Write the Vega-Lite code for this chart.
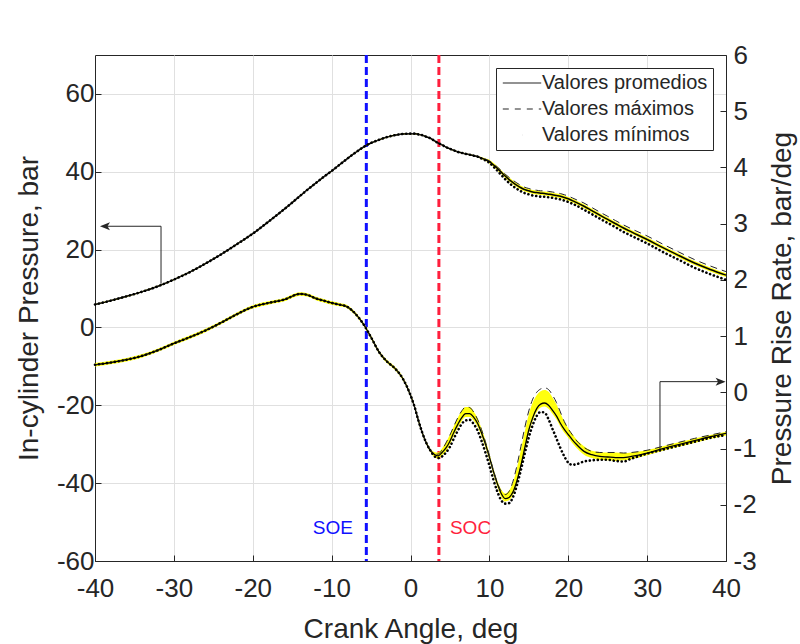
{
  "$schema": "https://vega.github.io/schema/vega-lite/v6.json",
  "width": 631,
  "height": 506,
  "autosize": {"type": "none"},
  "padding": {"left": 95, "top": 55, "right": 74, "bottom": 83},
  "background": "white",
  "config": {
    "font": "Liberation Sans",
    "view": {"stroke": "#262626", "strokeWidth": 1},
    "axis": {
      "labelFont": "Liberation Sans", "titleFont": "Liberation Sans",
      "labelFontSize": 26, "titleFontSize": 28, "titleFontWeight": "normal",
      "labelColor": "#262626", "titleColor": "#262626",
      "domainColor": "#262626", "tickColor": "#262626",
      "gridColor": "#e0e0e0", "gridOpacity": 1,
      "tickSize": -6, "labelPadding": 10, "labelFlush": false,
      "labelExpr": "datum.value + ''"
    },
    "legend": {
      "labelFont": "Liberation Sans", "labelFontSize": 20, "labelColor": "#262626", "labelLimit": 400
    }
  },
  "datasets": {
    "d": [
      {"a": -40, "pm": 5.9, "px": 5.9, "pn": 5.9, "pl": 5.75, "ph": 6.05, "rm": 0.49, "rx": 0.49, "rn": 0.49, "rl": 0.46, "rh": 0.52},
      {"a": -38, "pm": 6.9, "px": 6.9, "pn": 6.9, "pl": 6.75, "ph": 7.05, "rm": 0.53, "rx": 0.53, "rn": 0.53, "rl": 0.50, "rh": 0.56},
      {"a": -36, "pm": 8.0, "px": 8.0, "pn": 8.0, "pl": 7.85, "ph": 8.15, "rm": 0.58, "rx": 0.58, "rn": 0.58, "rl": 0.55, "rh": 0.61},
      {"a": -34, "pm": 9.2, "px": 9.2, "pn": 9.2, "pl": 9.05, "ph": 9.35, "rm": 0.65, "rx": 0.65, "rn": 0.65, "rl": 0.62, "rh": 0.68},
      {"a": -32, "pm": 10.6, "px": 10.6, "pn": 10.6, "pl": 10.45, "ph": 10.75, "rm": 0.75, "rx": 0.75, "rn": 0.75, "rl": 0.72, "rh": 0.78},
      {"a": -30, "pm": 12.3, "px": 12.3, "pn": 12.3, "pl": 12.15, "ph": 12.45, "rm": 0.87, "rx": 0.87, "rn": 0.87, "rl": 0.84, "rh": 0.90},
      {"a": -28, "pm": 14.2, "px": 14.2, "pn": 14.2, "pl": 14.05, "ph": 14.35, "rm": 0.98, "rx": 0.98, "rn": 0.98, "rl": 0.95, "rh": 1.01},
      {"a": -26, "pm": 16.4, "px": 16.4, "pn": 16.4, "pl": 16.25, "ph": 16.55, "rm": 1.10, "rx": 1.10, "rn": 1.10, "rl": 1.07, "rh": 1.13},
      {"a": -24, "pm": 18.8, "px": 18.8, "pn": 18.8, "pl": 18.65, "ph": 18.95, "rm": 1.24, "rx": 1.24, "rn": 1.24, "rl": 1.21, "rh": 1.27},
      {"a": -22, "pm": 21.4, "px": 21.4, "pn": 21.4, "pl": 21.25, "ph": 21.55, "rm": 1.39, "rx": 1.39, "rn": 1.39, "rl": 1.36, "rh": 1.42},
      {"a": -20, "pm": 24.1, "px": 24.1, "pn": 24.1, "pl": 23.95, "ph": 24.25, "rm": 1.52, "rx": 1.52, "rn": 1.52, "rl": 1.49, "rh": 1.55},
      {"a": -18, "pm": 27.2, "px": 27.2, "pn": 27.2, "pl": 27.05, "ph": 27.35, "rm": 1.59, "rx": 1.59, "rn": 1.59, "rl": 1.56, "rh": 1.62},
      {"a": -16, "pm": 30.4, "px": 30.4, "pn": 30.4, "pl": 30.25, "ph": 30.55, "rm": 1.65, "rx": 1.65, "rn": 1.65, "rl": 1.62, "rh": 1.68},
      {"a": -14, "pm": 33.8, "px": 33.8, "pn": 33.8, "pl": 33.65, "ph": 33.95, "rm": 1.75, "rx": 1.75, "rn": 1.75, "rl": 1.72, "rh": 1.78},
      {"a": -13, "pm": 35.5, "px": 35.5, "pn": 35.5, "pl": 35.35, "ph": 35.65, "rm": 1.73, "rx": 1.73, "rn": 1.73, "rl": 1.70, "rh": 1.76},
      {"a": -12, "pm": 37.1, "px": 37.1, "pn": 37.1, "pl": 36.95, "ph": 37.25, "rm": 1.67, "rx": 1.67, "rn": 1.67, "rl": 1.64, "rh": 1.70},
      {"a": -11, "pm": 38.7, "px": 38.7, "pn": 38.7, "pl": 38.55, "ph": 38.85, "rm": 1.63, "rx": 1.63, "rn": 1.63, "rl": 1.60, "rh": 1.66},
      {"a": -10, "pm": 40.2, "px": 40.2, "pn": 40.2, "pl": 40.05, "ph": 40.35, "rm": 1.59, "rx": 1.59, "rn": 1.59, "rl": 1.56, "rh": 1.62},
      {"a": -9, "pm": 41.8, "px": 41.8, "pn": 41.8, "pl": 41.65, "ph": 41.95, "rm": 1.56, "rx": 1.56, "rn": 1.56, "rl": 1.53, "rh": 1.59},
      {"a": -8, "pm": 43.4, "px": 43.4, "pn": 43.4, "pl": 43.25, "ph": 43.55, "rm": 1.52, "rx": 1.52, "rn": 1.52, "rl": 1.49, "rh": 1.55},
      {"a": -7, "pm": 44.9, "px": 44.9, "pn": 44.9, "pl": 44.75, "ph": 45.05, "rm": 1.40, "rx": 1.40, "rn": 1.40, "rl": 1.37, "rh": 1.43},
      {"a": -6, "pm": 46.3, "px": 46.3, "pn": 46.3, "pl": 46.15, "ph": 46.45, "rm": 1.22, "rx": 1.22, "rn": 1.22, "rl": 1.19, "rh": 1.25},
      {"a": -5, "pm": 47.4, "px": 47.4, "pn": 47.4, "pl": 47.25, "ph": 47.55, "rm": 0.98, "rx": 0.98, "rn": 0.98, "rl": 0.95, "rh": 1.01},
      {"a": -4, "pm": 48.2, "px": 48.2, "pn": 48.2, "pl": 48.05, "ph": 48.35, "rm": 0.72, "rx": 0.72, "rn": 0.72, "rl": 0.69, "rh": 0.75},
      {"a": -3, "pm": 48.9, "px": 48.9, "pn": 48.9, "pl": 48.75, "ph": 49.05, "rm": 0.55, "rx": 0.55, "rn": 0.55, "rl": 0.52, "rh": 0.58},
      {"a": -2, "pm": 49.4, "px": 49.4, "pn": 49.4, "pl": 49.25, "ph": 49.55, "rm": 0.43, "rx": 0.43, "rn": 0.43, "rl": 0.40, "rh": 0.46},
      {"a": -1, "pm": 49.7, "px": 49.7, "pn": 49.7, "pl": 49.55, "ph": 49.85, "rm": 0.25, "rx": 0.25, "rn": 0.25, "rl": 0.22, "rh": 0.28},
      {"a": 0, "pm": 49.8, "px": 49.8, "pn": 49.8, "pl": 49.65, "ph": 49.95, "rm": -0.05, "rx": -0.05, "rn": -0.05, "rl": -0.08, "rh": -0.02},
      {"a": 0.5, "pm": 49.8, "px": 49.8, "pn": 49.8, "pl": 49.65, "ph": 49.95, "rm": -0.25, "rx": -0.25, "rn": -0.25, "rl": -0.28, "rh": -0.22},
      {"a": 1, "pm": 49.6, "px": 49.6, "pn": 49.6, "pl": 49.45, "ph": 49.75, "rm": -0.50, "rx": -0.50, "rn": -0.50, "rl": -0.53, "rh": -0.47},
      {"a": 1.5, "pm": 49.4, "px": 49.4, "pn": 49.4, "pl": 49.25, "ph": 49.55, "rm": -0.72, "rx": -0.72, "rn": -0.72, "rl": -0.75, "rh": -0.69},
      {"a": 2, "pm": 49.0, "px": 49.0, "pn": 49.0, "pl": 48.85, "ph": 49.15, "rm": -0.90, "rx": -0.90, "rn": -0.90, "rl": -0.93, "rh": -0.87},
      {"a": 2.5, "pm": 48.6, "px": 48.6, "pn": 48.6, "pl": 48.45, "ph": 48.75, "rm": -1.03, "rx": -1.03, "rn": -1.03, "rl": -1.06, "rh": -1.00},
      {"a": 3, "pm": 48.0, "px": 48.0, "pn": 48.0, "pl": 47.85, "ph": 48.15, "rm": -1.10, "rx": -1.10, "rn": -1.13, "rl": -1.15, "rh": -1.06},
      {"a": 3.5, "pm": 47.4, "px": 47.4, "pn": 47.4, "pl": 47.25, "ph": 47.55, "rm": -1.13, "rx": -1.10, "rn": -1.17, "rl": -1.18, "rh": -1.07},
      {"a": 4, "pm": 46.9, "px": 46.9, "pn": 46.9, "pl": 46.75, "ph": 47.05, "rm": -1.07, "rx": -1.02, "rn": -1.14, "rl": -1.12, "rh": -1.00},
      {"a": 4.5, "pm": 46.35, "px": 46.35, "pn": 46.35, "pl": 46.2, "ph": 46.5, "rm": -0.99, "rx": -0.90, "rn": -1.07, "rl": -1.05, "rh": -0.89},
      {"a": 5, "pm": 45.9, "px": 45.9, "pn": 45.9, "pl": 45.75, "ph": 46.05, "rm": -0.87, "rx": -0.76, "rn": -0.97, "rl": -0.93, "rh": -0.75},
      {"a": 5.5, "pm": 45.5, "px": 45.5, "pn": 45.5, "pl": 45.35, "ph": 45.65, "rm": -0.71, "rx": -0.60, "rn": -0.82, "rl": -0.77, "rh": -0.60},
      {"a": 6, "pm": 45.1, "px": 45.1, "pn": 45.1, "pl": 44.95, "ph": 45.25, "rm": -0.57, "rx": -0.45, "rn": -0.68, "rl": -0.63, "rh": -0.45},
      {"a": 6.5, "pm": 44.85, "px": 44.85, "pn": 44.85, "pl": 44.7, "ph": 45.0, "rm": -0.45, "rx": -0.33, "rn": -0.56, "rl": -0.51, "rh": -0.33},
      {"a": 7, "pm": 44.6, "px": 44.6, "pn": 44.6, "pl": 44.45, "ph": 44.75, "rm": -0.38, "rx": -0.26, "rn": -0.50, "rl": -0.44, "rh": -0.26},
      {"a": 7.5, "pm": 44.4, "px": 44.4, "pn": 44.4, "pl": 44.25, "ph": 44.55, "rm": -0.38, "rx": -0.27, "rn": -0.49, "rl": -0.44, "rh": -0.26},
      {"a": 8, "pm": 44.15, "px": 44.15, "pn": 44.15, "pl": 44.0, "ph": 44.3, "rm": -0.44, "rx": -0.35, "rn": -0.56, "rl": -0.50, "rh": -0.34},
      {"a": 8.5, "pm": 43.9, "px": 43.9, "pn": 43.9, "pl": 43.75, "ph": 44.05, "rm": -0.55, "rx": -0.48, "rn": -0.68, "rl": -0.61, "rh": -0.46},
      {"a": 9, "pm": 43.5, "px": 43.6, "pn": 43.4, "pl": 43.2, "ph": 43.8, "rm": -0.72, "rx": -0.66, "rn": -0.86, "rl": -0.78, "rh": -0.64},
      {"a": 9.5, "pm": 43.1, "px": 43.25, "pn": 42.95, "pl": 42.8, "ph": 43.4, "rm": -0.92, "rx": -0.88, "rn": -1.07, "rl": -0.98, "rh": -0.85},
      {"a": 10, "pm": 42.6, "px": 42.8, "pn": 42.3, "pl": 42.1, "ph": 43.1, "rm": -1.15, "rx": -1.12, "rn": -1.30, "rl": -1.21, "rh": -1.09},
      {"a": 10.5, "pm": 41.8, "px": 42.1, "pn": 41.35, "pl": 41.3, "ph": 42.3, "rm": -1.40, "rx": -1.38, "rn": -1.55, "rl": -1.46, "rh": -1.35},
      {"a": 11, "pm": 40.9, "px": 41.25, "pn": 40.3, "pl": 40.4, "ph": 41.4, "rm": -1.62, "rx": -1.60, "rn": -1.76, "rl": -1.68, "rh": -1.57},
      {"a": 11.5, "pm": 39.9, "px": 40.35, "pn": 39.2, "pl": 39.4, "ph": 40.4, "rm": -1.80, "rx": -1.76, "rn": -1.92, "rl": -1.86, "rh": -1.73},
      {"a": 12, "pm": 38.9, "px": 39.4, "pn": 38.1, "pl": 38.4, "ph": 39.4, "rm": -1.89, "rx": -1.82, "rn": -1.98, "rl": -1.94, "rh": -1.80},
      {"a": 12.5, "pm": 38.0, "px": 38.55, "pn": 37.15, "pl": 37.5, "ph": 38.5, "rm": -1.87, "rx": -1.76, "rn": -1.97, "rl": -1.92, "rh": -1.75},
      {"a": 13, "pm": 37.2, "px": 37.8, "pn": 36.3, "pl": 36.7, "ph": 37.7, "rm": -1.77, "rx": -1.58, "rn": -1.86, "rl": -1.82, "rh": -1.60},
      {"a": 13.5, "pm": 36.5, "px": 37.1, "pn": 35.6, "pl": 36.0, "ph": 37.0, "rm": -1.57, "rx": -1.30, "rn": -1.65, "rl": -1.62, "rh": -1.34},
      {"a": 14, "pm": 35.9, "px": 36.5, "pn": 35.0, "pl": 35.4, "ph": 36.4, "rm": -1.30, "rx": -0.96, "rn": -1.38, "rl": -1.35, "rh": -1.02},
      {"a": 14.5, "pm": 35.4, "px": 36.0, "pn": 34.5, "pl": 34.9, "ph": 35.9, "rm": -0.98, "rx": -0.62, "rn": -1.08, "rl": -1.04, "rh": -0.69},
      {"a": 15, "pm": 35.1, "px": 35.7, "pn": 34.2, "pl": 34.6, "ph": 35.6, "rm": -0.67, "rx": -0.33, "rn": -0.80, "rl": -0.73, "rh": -0.39},
      {"a": 15.5, "pm": 34.8, "px": 35.4, "pn": 33.9, "pl": 34.3, "ph": 35.3, "rm": -0.45, "rx": -0.12, "rn": -0.58, "rl": -0.51, "rh": -0.18},
      {"a": 16, "pm": 34.65, "px": 35.25, "pn": 33.75, "pl": 34.15, "ph": 35.15, "rm": -0.29, "rx": 0.00, "rn": -0.42, "rl": -0.35, "rh": -0.05},
      {"a": 16.5, "pm": 34.5, "px": 35.1, "pn": 33.6, "pl": 34.0, "ph": 35.0, "rm": -0.21, "rx": 0.06, "rn": -0.35, "rl": -0.27, "rh": 0.02},
      {"a": 17, "pm": 34.4, "px": 35.1, "pn": 33.6, "pl": 33.9, "ph": 34.9, "rm": -0.19, "rx": 0.08, "rn": -0.36, "rl": -0.25, "rh": 0.04},
      {"a": 17.5, "pm": 34.25, "px": 34.95, "pn": 33.45, "pl": 33.75, "ph": 34.75, "rm": -0.23, "rx": 0.05, "rn": -0.48, "rl": -0.29, "rh": 0.01},
      {"a": 18, "pm": 34.1, "px": 34.8, "pn": 33.3, "pl": 33.6, "ph": 34.6, "rm": -0.32, "rx": -0.05, "rn": -0.65, "rl": -0.38, "rh": -0.09},
      {"a": 18.5, "pm": 33.9, "px": 34.6, "pn": 33.1, "pl": 33.4, "ph": 34.4, "rm": -0.42, "rx": -0.18, "rn": -0.82, "rl": -0.48, "rh": -0.21},
      {"a": 19, "pm": 33.7, "px": 34.4, "pn": 32.9, "pl": 33.2, "ph": 34.2, "rm": -0.55, "rx": -0.35, "rn": -0.99, "rl": -0.61, "rh": -0.37},
      {"a": 19.5, "pm": 33.4, "px": 34.1, "pn": 32.6, "pl": 32.9, "ph": 33.9, "rm": -0.66, "rx": -0.52, "rn": -1.14, "rl": -0.72, "rh": -0.52},
      {"a": 20, "pm": 33.05, "px": 33.75, "pn": 32.25, "pl": 32.55, "ph": 33.55, "rm": -0.75, "rx": -0.65, "rn": -1.25, "rl": -0.81, "rh": -0.64},
      {"a": 20.5, "pm": 32.6, "px": 33.3, "pn": 31.8, "pl": 32.1, "ph": 33.1, "rm": -0.84, "rx": -0.75, "rn": -1.29, "rl": -0.90, "rh": -0.74},
      {"a": 21, "pm": 32.15, "px": 32.85, "pn": 31.35, "pl": 31.65, "ph": 32.65, "rm": -0.92, "rx": -0.85, "rn": -1.28, "rl": -0.98, "rh": -0.83},
      {"a": 22, "pm": 31.15, "px": 31.95, "pn": 30.25, "pl": 30.65, "ph": 31.65, "rm": -1.05, "rx": -0.98, "rn": -1.23, "rl": -1.11, "rh": -0.96},
      {"a": 23, "pm": 30.0, "px": 30.8, "pn": 29.1, "pl": 29.5, "ph": 30.5, "rm": -1.11, "rx": -1.05, "rn": -1.21, "rl": -1.17, "rh": -1.04},
      {"a": 24, "pm": 28.85, "px": 29.65, "pn": 27.95, "pl": 28.35, "ph": 29.35, "rm": -1.14, "rx": -1.07, "rn": -1.20, "rl": -1.20, "rh": -1.06},
      {"a": 25, "pm": 27.75, "px": 28.55, "pn": 26.85, "pl": 27.25, "ph": 28.25, "rm": -1.15, "rx": -1.07, "rn": -1.20, "rl": -1.21, "rh": -1.07},
      {"a": 26, "pm": 26.65, "px": 27.45, "pn": 25.75, "pl": 26.15, "ph": 27.15, "rm": -1.16, "rx": -1.07, "rn": -1.22, "rl": -1.22, "rh": -1.07},
      {"a": 27, "pm": 25.55, "px": 26.35, "pn": 24.55, "pl": 25.05, "ph": 26.05, "rm": -1.16, "rx": -1.08, "rn": -1.23, "rl": -1.21, "rh": -1.08},
      {"a": 28, "pm": 24.55, "px": 25.35, "pn": 23.55, "pl": 24.05, "ph": 25.05, "rm": -1.14, "rx": -1.07, "rn": -1.18, "rl": -1.19, "rh": -1.07},
      {"a": 30, "pm": 22.6, "px": 23.5, "pn": 21.6, "pl": 22.1, "ph": 23.1, "rm": -1.08, "rx": -1.03, "rn": -1.09, "rl": -1.12, "rh": -1.03},
      {"a": 32, "pm": 20.5, "px": 21.4, "pn": 19.4, "pl": 20.0, "ph": 21.0, "rm": -1.00, "rx": -0.96, "rn": -1.02, "rl": -1.04, "rh": -0.96},
      {"a": 34, "pm": 18.5, "px": 19.4, "pn": 17.4, "pl": 18.0, "ph": 19.0, "rm": -0.93, "rx": -0.89, "rn": -0.95, "rl": -0.97, "rh": -0.89},
      {"a": 36, "pm": 16.55, "px": 17.45, "pn": 15.35, "pl": 16.05, "ph": 17.05, "rm": -0.86, "rx": -0.82, "rn": -0.88, "rl": -0.90, "rh": -0.82},
      {"a": 38, "pm": 14.9, "px": 15.8, "pn": 13.7, "pl": 14.4, "ph": 15.4, "rm": -0.79, "rx": -0.76, "rn": -0.81, "rl": -0.83, "rh": -0.76},
      {"a": 40, "pm": 13.45, "px": 14.35, "pn": 12.25, "pl": 12.95, "ph": 13.95, "rm": -0.73, "rx": -0.70, "rn": -0.76, "rl": -0.77, "rh": -0.70}
    ]
  },
  "layer": [
    {
      "layer": [
        {
          "data": {"name": "d"},
          "mark": {"type": "area", "color": "#ffff00", "opacity": 0.95, "interpolate": "monotone"},
          "encoding": {
            "x": {"field": "a", "type": "quantitative", "scale": {"domain": [-40, 40], "nice": false},
                  "axis": {"values": [-40, -30, -20, -10, 0, 10, 20, 30, 40], "title": "Crank Angle, deg", "grid": true,
                           "labelPadding": 20, "titleX": 315.5, "titleY": 76, "titleBaseline": "alphabetic", "titleAlign": "center"}},
            "y": {"field": "pl", "type": "quantitative", "scale": {"domain": [-60, 70], "nice": false},
                  "axis": {"orient": "left", "values": [-60, -40, -20, 0, 20, 40, 60], "title": "In-cylinder Pressure, bar", "grid": true,
                           "labelPadding": 7, "titleX": -58, "titleY": 253, "titleAngle": 270, "titleBaseline": "alphabetic", "titleAlign": "center"}},
            "y2": {"field": "ph"}
          }
        },
        {
          "data": {"values": [{"a": -5.6}]},
          "mark": {"type": "rule", "color": "#1010ff", "strokeWidth": 3, "strokeDash": [8, 4]},
          "encoding": {"x": {"field": "a", "type": "quantitative"}}
        },
        {
          "data": {"values": [{"a": 3.6}]},
          "mark": {"type": "rule", "color": "#ff1f3d", "strokeWidth": 3, "strokeDash": [8, 4]},
          "encoding": {"x": {"field": "a", "type": "quantitative"}}
        },
        {
          "data": {"name": "d"},
          "mark": {"type": "line", "color": "black", "strokeWidth": 1.5, "interpolate": "monotone"},
          "encoding": {"x": {"field": "a", "type": "quantitative"}, "y": {"field": "pm", "type": "quantitative"}}
        },
        {
          "data": {"name": "d"},
          "mark": {"type": "line", "color": "#262626", "strokeWidth": 1, "strokeDash": [7, 5], "interpolate": "monotone"},
          "encoding": {"x": {"field": "a", "type": "quantitative"}, "y": {"field": "px", "type": "quantitative"}}
        },
        {
          "data": {"name": "d"},
          "mark": {"type": "line", "color": "black", "strokeWidth": 2.6, "strokeDash": [0.1, 3.9], "strokeCap": "round", "interpolate": "monotone"},
          "encoding": {"x": {"field": "a", "type": "quantitative"}, "y": {"field": "pn", "type": "quantitative"}}
        },
        {
          "data": {"values": [{"k": "pm", "a": 0, "p": 0}, {"k": "px", "a": 0, "p": 0}, {"k": "pn", "a": 0, "p": 0}]},
          "mark": {"type": "line", "color": "#262626", "opacity": 0, "strokeCap": "round"},
          "encoding": {
            "x": {"field": "a", "type": "quantitative"},
            "y": {"field": "p", "type": "quantitative"},
            "strokeDash": {"field": "k", "type": "nominal",
              "scale": {"domain": ["pm", "px", "pn"], "range": [[1, 0], [6, 6], [0.1, 200]]},
              "legend": {
                "title": null, "orient": "top-right", "offset": 13,
                "strokeColor": "#262626", "fillColor": "white", "padding": 5, "rowPadding": 6,
                "labelExpr": "datum.value == 'pm' ? 'Valores promedios' : datum.value == 'px' ? 'Valores máximos' : 'Valores mínimos'",
                "symbolType": "M-2.4,0H2.4", "symbolSize": 256, "symbolOffset": 11, "labelOffset": 10,
                "symbolDashOffset": 180, "symbolOpacity": 1, "symbolStrokeColor": "#262626"
              }},
            "strokeWidth": {"field": "k", "type": "nominal",
              "scale": {"domain": ["pm", "px", "pn"], "range": [1.2, 1, 3.2]}}
          }
        },
        {
          "data": {"values": [{"a": -7.3, "p": -53.1, "t": "SOE"}]},
          "mark": {"type": "text", "fontSize": 19, "baseline": "alphabetic", "align": "right", "font": "Liberation Sans", "color": "#1010ff"},
          "encoding": {
            "x": {"field": "a", "type": "quantitative"},
            "y": {"field": "p", "type": "quantitative"},
            "text": {"field": "t"}
          }
        },
        {
          "data": {"values": [{"a": 5.0, "p": -53.1, "t": "SOC"}]},
          "mark": {"type": "text", "fontSize": 19, "baseline": "alphabetic", "align": "left", "font": "Liberation Sans", "color": "#ff1f3d"},
          "encoding": {
            "x": {"field": "a", "type": "quantitative"},
            "y": {"field": "p", "type": "quantitative"},
            "text": {"field": "t"}
          }
        },
        {
          "data": {"values": [{"a": -31.63, "p": 11.2, "o": 0}, {"a": -31.63, "p": 26.0, "o": 1}, {"a": -39.0, "p": 26.0, "o": 2}]},
          "mark": {"type": "line", "color": "#262626", "strokeWidth": 1},
          "encoding": {
            "x": {"field": "a", "type": "quantitative"},
            "y": {"field": "p", "type": "quantitative"},
            "order": {"field": "o"}
          }
        },
        {
          "data": {"values": [{"a": -39.37, "p": 26.0}]},
          "mark": {"type": "point", "shape": "M0,0L2,-0.8L1.5,0L2,0.8Z", "filled": true, "color": "#262626", "size": 100, "opacity": 1},
          "encoding": {
            "x": {"field": "a", "type": "quantitative"},
            "y": {"field": "p", "type": "quantitative"}
          }
        }
      ]
    },
    {
      "layer": [
        {
          "data": {"name": "d"},
          "mark": {"type": "area", "color": "#ffff00", "opacity": 0.95, "interpolate": "monotone"},
          "encoding": {
            "x": {"field": "a", "type": "quantitative"},
            "y": {"field": "rl", "type": "quantitative", "scale": {"domain": [-3, 6], "nice": false},
                  "axis": {"orient": "right", "values": [-3, -2, -1, 0, 1, 2, 3, 4, 5, 6], "title": "Pressure Rise Rate, bar/deg", "grid": false,
                           "labelPadding": 13, "titleX": 64, "titleY": 253, "titleAngle": 270, "titleBaseline": "alphabetic", "titleAlign": "center"}},
            "y2": {"field": "rh"}
          }
        },
        {
          "data": {"name": "d"},
          "mark": {"type": "line", "color": "black", "strokeWidth": 1.3, "interpolate": "monotone"},
          "encoding": {"x": {"field": "a", "type": "quantitative"}, "y": {"field": "rm", "type": "quantitative"}}
        },
        {
          "data": {"name": "d"},
          "mark": {"type": "line", "color": "#262626", "strokeWidth": 1, "strokeDash": [7, 5], "interpolate": "monotone"},
          "encoding": {"x": {"field": "a", "type": "quantitative"}, "y": {"field": "rx", "type": "quantitative"}}
        },
        {
          "data": {"name": "d"},
          "mark": {"type": "line", "color": "black", "strokeWidth": 2.6, "strokeDash": [0.1, 3.9], "strokeCap": "round", "interpolate": "monotone"},
          "encoding": {"x": {"field": "a", "type": "quantitative"}, "y": {"field": "rn", "type": "quantitative"}}
        },
        {
          "data": {"values": [{"a": 31.63, "r": -1.01, "o": 0}, {"a": 31.63, "r": 0.19, "o": 1}, {"a": 39.6, "r": 0.19, "o": 2}]},
          "mark": {"type": "line", "color": "#262626", "strokeWidth": 1},
          "encoding": {
            "x": {"field": "a", "type": "quantitative"},
            "y": {"field": "r", "type": "quantitative"},
            "order": {"field": "o"}
          }
        },
        {
          "data": {"values": [{"a": 39.95, "r": 0.19}]},
          "mark": {"type": "point", "shape": "M0,0L-2,-0.8L-1.5,0L-2,0.8Z", "filled": true, "color": "#262626", "size": 100, "opacity": 1},
          "encoding": {
            "x": {"field": "a", "type": "quantitative"},
            "y": {"field": "r", "type": "quantitative"}
          }
        }
      ]
    }
  ],
  "resolve": {"scale": {"y": "independent"}}
}
